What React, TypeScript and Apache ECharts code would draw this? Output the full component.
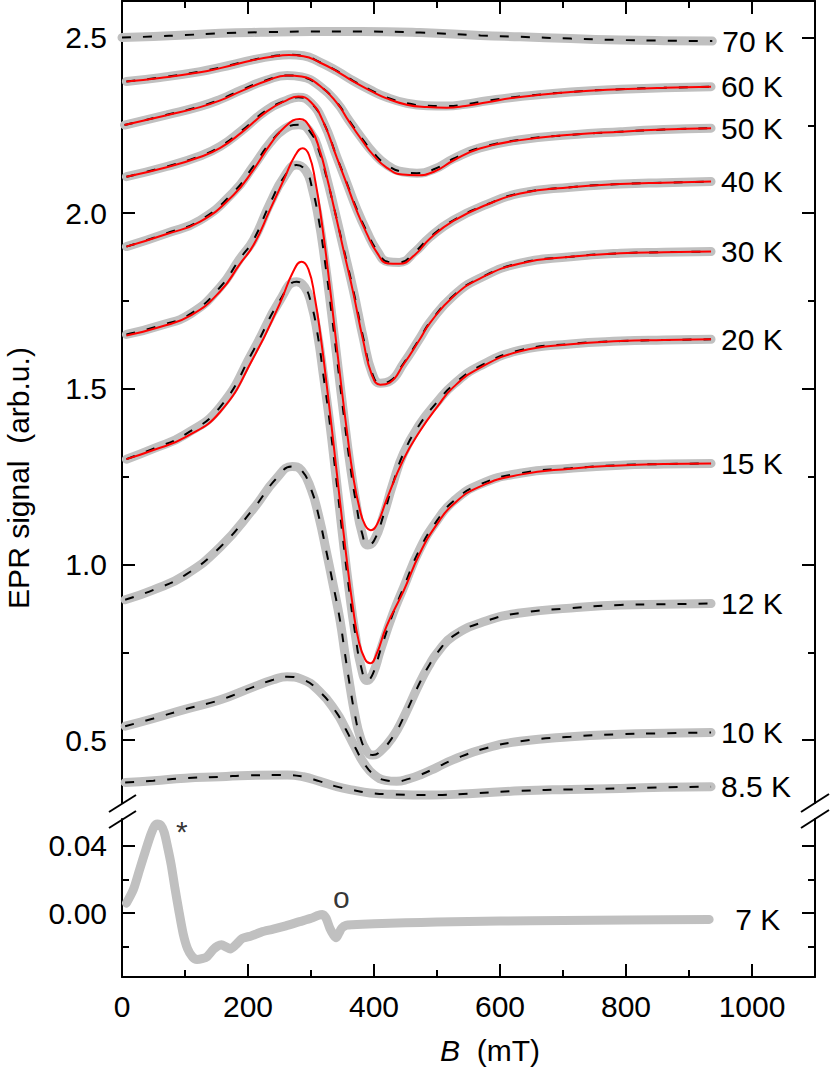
import React, { useEffect, useRef } from "react";
import * as echarts from "echarts";

type P = [number, number][];

// ---------- data (B in mT, EPR signal in arb.u.) ----------
const d70K: P = [[0,2.500],[50,2.503],[100,2.507],[156,2.512],[220,2.515],[300,2.517],[380,2.517],[473,2.514],[569,2.506],[632,2.502],[712,2.497],[791,2.493],[860,2.491],[937,2.490]];

const d60K: P = [[7,2.375],[60,2.386],[124,2.403],[156,2.415],[209,2.437],[240,2.447],[265,2.451],[288,2.448],[314,2.430],[341,2.405],[367,2.377],[394,2.351],[420,2.330],[452,2.313],[484,2.306],[515,2.305],[545,2.310],[580,2.320],[632,2.332],[712,2.345],[791,2.353],[860,2.357],[935,2.360]];
const r60K: P = [[7,2.375],[60,2.385],[124,2.401],[156,2.413],[209,2.436],[240,2.446],[265,2.450],[288,2.447],[314,2.429],[341,2.404],[367,2.375],[394,2.349],[420,2.327],[452,2.309],[484,2.302],[515,2.300],[545,2.305],[580,2.316],[632,2.331],[712,2.345],[791,2.353],[860,2.357],[935,2.360]];

const d50K: P = [[4,2.251],[71,2.280],[124,2.304],[156,2.324],[190,2.351],[230,2.379],[262,2.392],[285,2.388],[314,2.362],[341,2.315],[360,2.265],[380,2.215],[400,2.170],[420,2.138],[445,2.118],[468,2.114],[495,2.125],[526,2.155],[568,2.186],[632,2.209],[712,2.223],[791,2.232],[860,2.238],[935,2.242]];
const r50K: P = [[4,2.251],[71,2.279],[124,2.302],[156,2.321],[190,2.348],[230,2.377],[262,2.392],[285,2.389],[314,2.363],[341,2.314],[360,2.262],[380,2.210],[400,2.163],[420,2.130],[445,2.110],[468,2.108],[495,2.118],[526,2.150],[568,2.184],[632,2.208],[712,2.223],[791,2.232],[860,2.238],[935,2.242]];

const d40K: P = [[7,2.104],[71,2.133],[124,2.163],[156,2.190],[190,2.235],[230,2.294],[262,2.322],[280,2.330],[300,2.314],[320,2.258],[341,2.160],[357,2.085],[373,2.010],[388,1.950],[405,1.893],[422,1.862],[440,1.860],[465,1.890],[489,1.932],[526,1.980],[579,2.025],[632,2.057],[712,2.074],[791,2.083],[860,2.087],[935,2.090]];
const r40K: P = [[7,2.104],[71,2.131],[124,2.160],[156,2.186],[190,2.230],[230,2.290],[262,2.322],[280,2.332],[300,2.316],[320,2.258],[341,2.158],[357,2.082],[373,2.005],[388,1.944],[405,1.887],[422,1.857],[440,1.856],[465,1.882],[489,1.928],[526,1.978],[579,2.024],[632,2.056],[712,2.074],[791,2.083],[860,2.087],[935,2.090]];

const d30K: P = [[7,1.905],[71,1.943],[124,1.980],[177,2.060],[209,2.135],[235,2.200],[258,2.240],[280,2.252],[300,2.228],[314,2.170],[325,2.100],[336,2.020],[351,1.905],[367,1.782],[383,1.645],[397,1.545],[410,1.516],[425,1.522],[447,1.573],[473,1.645],[489,1.690],[526,1.765],[568,1.815],[632,1.858],[712,1.876],[791,1.886],[860,1.889],[935,1.891]];
const r30K: P = [[7,1.905],[71,1.941],[124,1.976],[177,2.052],[209,2.125],[235,2.195],[258,2.245],[282,2.268],[300,2.240],[314,2.178],[325,2.104],[336,2.020],[351,1.900],[367,1.774],[383,1.636],[397,1.538],[410,1.512],[425,1.518],[447,1.570],[473,1.642],[489,1.688],[526,1.763],[568,1.814],[632,1.857],[712,1.876],[791,1.886],[860,1.889],[935,1.891]];

const d20K: P = [[7,1.655],[60,1.680],[110,1.715],[156,1.790],[187,1.870],[209,1.925],[235,2.028],[258,2.105],[277,2.137],[292,2.120],[302,2.070],[312,1.985],[322,1.865],[332,1.725],[342,1.575],[352,1.425],[362,1.285],[372,1.170],[381,1.090],[390,1.056],[400,1.068],[415,1.140],[430,1.230],[447,1.317],[473,1.400],[500,1.462],[526,1.512],[568,1.565],[632,1.610],[712,1.628],[791,1.636],[860,1.639],[935,1.641]];
const r20K: P = [[7,1.652],[60,1.676],[110,1.710],[156,1.778],[187,1.855],[209,1.910],[235,2.010],[258,2.100],[275,2.165],[287,2.185],[297,2.165],[307,2.090],[317,1.975],[327,1.835],[337,1.680],[347,1.525],[357,1.380],[367,1.250],[377,1.160],[386,1.112],[395,1.098],[405,1.115],[420,1.185],[447,1.300],[473,1.380],[500,1.448],[526,1.505],[568,1.560],[632,1.607],[712,1.627],[791,1.636],[860,1.639],[935,1.641]];

const d15K: P = [[7,1.300],[50,1.330],[100,1.370],[156,1.449],[209,1.611],[251,1.753],[277,1.805],[290,1.790],[300,1.745],[310,1.660],[320,1.535],[330,1.400],[340,1.245],[350,1.085],[360,0.935],[370,0.805],[380,0.705],[389,0.670],[398,0.688],[410,0.755],[430,0.860],[447,0.935],[473,1.045],[500,1.125],[526,1.180],[568,1.228],[632,1.260],[712,1.274],[791,1.283],[860,1.286],[935,1.288]];
const r15K: P = [[7,1.300],[50,1.326],[100,1.362],[156,1.435],[209,1.590],[251,1.745],[272,1.835],[285,1.862],[296,1.840],[306,1.760],[316,1.640],[326,1.495],[336,1.340],[346,1.180],[356,1.025],[366,0.885],[376,0.780],[386,0.730],[394,0.719],[404,0.745],[420,0.825],[447,0.925],[473,1.033],[500,1.115],[526,1.172],[568,1.222],[632,1.256],[712,1.273],[791,1.282],[860,1.286],[935,1.288]];

const d12K: P = [[5,0.900],[50,0.928],[100,0.970],[156,1.050],[209,1.160],[245,1.245],[270,1.279],[285,1.268],[300,1.215],[312,1.140],[325,1.032],[336,0.935],[346,0.842],[354,0.745],[362,0.652],[370,0.570],[378,0.510],[388,0.470],[398,0.458],[410,0.468],[430,0.510],[447,0.565],[473,0.665],[489,0.718],[500,0.748],[526,0.797],[579,0.840],[632,0.862],[712,0.876],[791,0.885],[860,0.887],[935,0.889]];

const d10K: P = [[5,0.540],[50,0.562],[100,0.588],[156,0.615],[209,0.652],[240,0.672],[262,0.681],[285,0.674],[314,0.638],[340,0.580],[355,0.532],[370,0.480],[385,0.432],[400,0.402],[418,0.386],[436,0.383],[455,0.390],[473,0.401],[500,0.423],[526,0.445],[579,0.478],[632,0.497],[712,0.510],[791,0.517],[860,0.520],[935,0.522]];

const d8p5K: P = [[5,0.380],[50,0.385],[100,0.392],[156,0.396],[200,0.400],[262,0.401],[288,0.396],[314,0.383],[341,0.368],[367,0.358],[394,0.350],[430,0.346],[489,0.344],[550,0.348],[632,0.356],[712,0.360],[791,0.363],[860,0.366],[935,0.368]];

const d7K: P = [[7,0.006],[18,0.014],[28,0.026],[38,0.038],[46,0.047],[52,0.052],[56,0.053],[62,0.052],[67,0.048],[72,0.040],[78,0.029],[84,0.015],[90,0.002],[97,-0.012],[104,-0.021],[112,-0.026],[119,-0.0275],[127,-0.027],[135,-0.0258],[145,-0.0215],[152,-0.0195],[158,-0.0188],[165,-0.020],[172,-0.0212],[180,-0.019],[191,-0.015],[205,-0.0135],[221,-0.0112],[240,-0.0095],[260,-0.0075],[282,-0.005],[300,-0.003],[312,-0.0012],[318,-0.0008],[324,-0.003],[330,-0.009],[336,-0.013],[340,-0.0145],[344,-0.012],[349,-0.0088],[356,-0.0072],[365,-0.0068],[400,-0.0062],[450,-0.0057],[500,-0.0052],[550,-0.0049],[600,-0.0046],[700,-0.0043],[800,-0.0040],[932,-0.0037]];

const upperCurves = [
  { label: "70 K", data: d70K, fit: d70K, red: null as P | null },
  { label: "60 K", data: d60K, fit: d60K, red: r60K },
  { label: "50 K", data: d50K, fit: d50K, red: r50K },
  { label: "40 K", data: d40K, fit: d40K, red: r40K },
  { label: "30 K", data: d30K, fit: d30K, red: r30K },
  { label: "20 K", data: d20K, fit: d20K, red: r20K },
  { label: "15 K", data: d15K, fit: d15K, red: r15K },
  { label: "12 K", data: d12K, fit: d12K, red: null },
  { label: "10 K", data: d10K, fit: d10K, red: null },
  { label: "8.5 K", data: d8p5K, fit: d8p5K, red: null },
];
const lowerLabel = "7 K";

const annotations: { B: number; v: number; text: string }[] = [
  { B: 95, v: 0.0483, text: "*" },
  { B: 348, v: 0.0092, text: "o" },
];

const xRange = [0, 1100];
const upperRange = [0.3214, 2.604];
const lowerRange = [-0.0379, 0.056];
const xMajor = [0, 200, 400, 600, 800, 1000];
const xMinor = [100, 300, 500, 700, 900];
const upperMajor = [0.5, 1.0, 1.5, 2.0, 2.5];
const upperMinor = [0.75, 1.25, 1.75, 2.25];
const lowerMajor = [0.0, 0.04];
const lowerMinor = [-0.02, 0.02];

const FONT = "'Liberation Sans', Arial, Helvetica, sans-serif";
const GRAY = "#c0c0c0";

function makeAxis(opts: {
  grid: number;
  pos: string;
  range: number[];
  ticks: number[];
  len: number;
  line: boolean;
  labels?: number[];
  fmt?: (v: number) => string;
  margin?: number;
}) {
  return {
    type: "value",
    gridIndex: opts.grid,
    position: opts.pos,
    min: opts.range[0],
    max: opts.range[1],
    axisLine: { show: opts.line, onZero: false, lineStyle: { color: "#000", width: 2 } },
    axisTick: {
      show: true,
      inside: true,
      length: opts.len,
      customValues: opts.ticks,
      lineStyle: { color: "#000", width: 2 },
    },
    axisLabel: opts.labels
      ? {
          show: true,
          customValues: opts.labels,
          formatter: opts.fmt,
          fontSize: 30,
          fontFamily: FONT,
          color: "#000",
          margin: opts.margin ?? 15,
        }
      : { show: false },
    splitLine: { show: false },
  };
}

export default function App() {
  const ref = useRef<HTMLDivElement>(null);

  useEffect(() => {
    if (!ref.current) return;
    const chart = echarts.init(ref.current, undefined, { renderer: "svg" });

    const xAxis = [
      makeAxis({ grid: 0, pos: "top", range: xRange, ticks: xMajor.slice(1), len: 13, line: true }),
      makeAxis({ grid: 0, pos: "top", range: xRange, ticks: xMinor, len: 7, line: false }),
      makeAxis({ grid: 1, pos: "bottom", range: xRange, ticks: xMajor.slice(1), len: 13, line: true, labels: xMajor, fmt: (v: number) => String(v), margin: 14 }),
      makeAxis({ grid: 1, pos: "bottom", range: xRange, ticks: xMinor, len: 7, line: false }),
    ];
    const yAxis = [
      makeAxis({ grid: 0, pos: "left", range: upperRange, ticks: upperMajor, len: 13, line: true, labels: upperMajor, fmt: (v: number) => v.toFixed(1) }),
      makeAxis({ grid: 0, pos: "left", range: upperRange, ticks: upperMinor, len: 7, line: false }),
      makeAxis({ grid: 0, pos: "right", range: upperRange, ticks: upperMajor, len: 13, line: true }),
      makeAxis({ grid: 0, pos: "right", range: upperRange, ticks: upperMinor, len: 7, line: false }),
      makeAxis({ grid: 1, pos: "left", range: lowerRange, ticks: lowerMajor, len: 13, line: true, labels: lowerMajor, fmt: (v: number) => v.toFixed(2) }),
      makeAxis({ grid: 1, pos: "left", range: lowerRange, ticks: lowerMinor, len: 7, line: false }),
      makeAxis({ grid: 1, pos: "right", range: lowerRange, ticks: lowerMajor, len: 13, line: true }),
      makeAxis({ grid: 1, pos: "right", range: lowerRange, ticks: lowerMinor, len: 7, line: false }),
    ];

    const series: any[] = [];
    const base = { type: "line", symbol: "none", showSymbol: false, silent: true, smooth: 0.5 };

    upperCurves.forEach((c) => {
      series.push({
        ...base,
        name: c.label + " data",
        xAxisIndex: 0,
        yAxisIndex: 0,
        z: 2,
        data: c.data,
        lineStyle: { color: GRAY, width: 9, cap: "round", join: "round" },
        endLabel: {
          show: true,
          formatter: c.label,
          distance: 10,
          fontSize: 30,
          fontFamily: FONT,
          color: "#000",
        },
      });
    });
    upperCurves.forEach((c) => {
      series.push({
        ...base,
        name: c.label + " fit",
        xAxisIndex: 0,
        yAxisIndex: 0,
        z: 3,
        data: c.fit,
        lineStyle: { color: "#000", width: 2, type: [9, 12] },
      });
    });
    upperCurves.forEach((c) => {
      if (!c.red) return;
      series.push({
        ...base,
        name: c.label + " model",
        xAxisIndex: 0,
        yAxisIndex: 0,
        z: 4,
        data: c.red,
        lineStyle: { color: "#ff0000", width: 2 },
      });
    });

    series.push({
      ...base,
      smooth: 0.25,
      name: "7 K data",
      xAxisIndex: 2,
      yAxisIndex: 4,
      z: 2,
      data: d7K,
      lineStyle: { color: GRAY, width: 9, cap: "round", join: "round" },
      endLabel: {
        show: true,
        formatter: lowerLabel,
        distance: 26,
        fontSize: 30,
        fontFamily: FONT,
        color: "#000",
      },
    });

    series.push({
      type: "scatter",
      name: "marks",
      xAxisIndex: 2,
      yAxisIndex: 4,
      silent: true,
      symbol: "circle",
      symbolSize: 1,
      itemStyle: { color: "rgba(0,0,0,0)" },
      data: annotations.map((a) => [a.B, a.v]),
      label: {
        show: true,
        position: "inside",
        formatter: (p: any) => annotations[p.dataIndex].text,
        fontSize: 30,
        fontFamily: FONT,
        color: "#000",
      },
      z: 5,
    });

    const slash = (x1: number, y1: number, x2: number, y2: number) => ({
      type: "line",
      shape: { x1, y1, x2, y2 },
      style: { stroke: "#000", lineWidth: 2 },
      silent: true,
    });

    chart.setOption({
      animation: false,
      backgroundColor: "#fff",
      grid: [
        { left: 122, right: 15, top: 1, height: 802, containLabel: false },
        { left: 122, right: 15, top: 819, height: 158, containLabel: false },
      ],
      xAxis,
      yAxis,
      series,
      graphic: [
        slash(109, 812, 136, 795),
        slash(109, 828, 136, 811),
        slash(801, 812, 829, 794),
        slash(801, 828, 829, 810),
        {
          type: "text",
          x: 18,
          y: 478,
          rotation: Math.PI / 2,
          silent: true,
          style: {
            text: "EPR signal  (arb.u.)",
            fontSize: 30,
            fontFamily: FONT,
            fill: "#000",
            align: "center",
            verticalAlign: "middle",
          },
        },
        {
          type: "text",
          x: 490,
          y: 1050,
          silent: true,
          style: {
            text: "{i|B}  (mT)",
            fontSize: 30,
            fontFamily: FONT,
            fill: "#000",
            align: "center",
            verticalAlign: "middle",
            rich: {
              i: { fontStyle: "italic", fontSize: 30, fontFamily: FONT, fill: "#000" },
            },
          },
        },
      ],
    });

    return () => chart.dispose();
  }, []);

  return (
    <div
      ref={ref}
      style={{ position: "fixed", left: 0, top: 0, width: 830, height: 1077, background: "#fff" }}
    />
  );
}
